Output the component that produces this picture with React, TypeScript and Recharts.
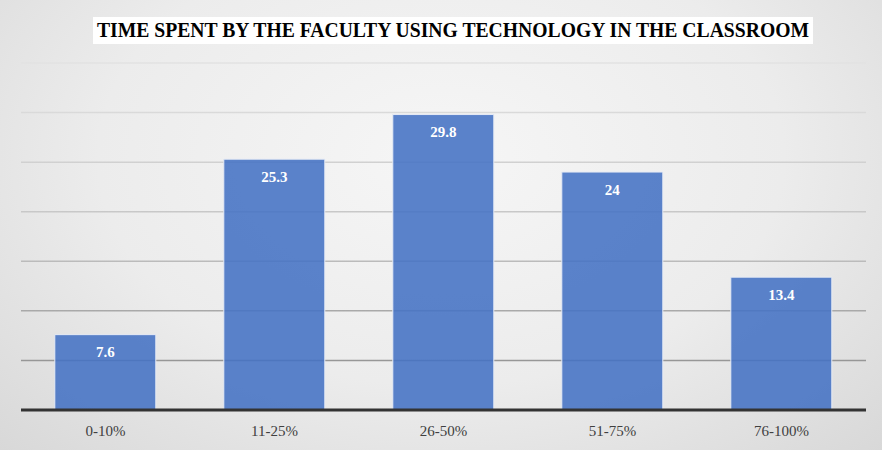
import { BarChart, Bar, XAxis, YAxis, CartesianGrid, LabelList } from "recharts";

const categories = ["0-10%", "11-25%", "26-50%", "51-75%", "76-100%"];
const values = [7.6, 25.3, 29.8, 24, 13.4];
const yTicks = [0, 5, 10, 15, 20, 25, 30, 35];
const title = "TIME SPENT BY THE FACULTY USING TECHNOLOGY IN THE CLASSROOM";

const data = categories.map((c, i) => ({ name: c, value: values[i] }));

const serif = "'Liberation Serif', 'Times New Roman', serif";

export default function App() {
  return (
    <div
      style={{
        position: "relative",
        width: 882,
        height: 450,
        background: "radial-gradient(ellipse at 50% 35%, #f6f6f6 0%, #ececec 55%, #d8d8d8 100%)",
      }}
    >
      <style>{`body{margin:0}`}</style>
      <div
        style={{
          position: "absolute",
          left: 93,
          top: 17,
          width: 720,
          height: 27,
          background: "#fff",
        }}
      />
      <svg width={882} height={450} style={{ position: "absolute", left: 0, top: 0 }}>
        <text
          x={453}
          y={37}
          textAnchor="middle"
          fontFamily={serif}
          fontWeight="bold"
          fontSize={20}
          fill="#000"
          textLength={712}
          lengthAdjust="spacingAndGlyphs"
        >
          {title}
        </text>
      </svg>
      <div style={{ position: "absolute", left: 0, top: 0 }}>
        <BarChart
          width={882}
          height={450}
          data={data}
          margin={{ top: 63, right: 16, left: 21, bottom: 10 }}
          barCategoryGap="20%"
        >
          <defs>
            <linearGradient id="gridGrad" gradientUnits="userSpaceOnUse" x1="0" y1="63" x2="0" y2="410">
              <stop offset="0%" stopColor="#e2e2e2" />
              <stop offset="50%" stopColor="#c4c4c4" />
              <stop offset="100%" stopColor="#858585" />
            </linearGradient>
          </defs>
          <CartesianGrid vertical={false} stroke="url(#gridGrad)" strokeWidth={1.5} />
          <YAxis hide domain={[0, 35]} ticks={yTicks} />
          <XAxis
            dataKey="name"
            height={30}
            axisLine={{ stroke: "#333", strokeWidth: 3 }}
            tickLine={false}
            tick={{ fill: "#404040", fontFamily: serif, fontSize: 15, dy: 7 }}
          />
          <Bar
            dataKey="value"
            fill="#4472c4"
            fillOpacity={0.88}
            stroke="#e6ebf5"
            strokeWidth={1}
            isAnimationActive={false}
          >
            <LabelList
              dataKey="value"
              position="insideTop"
              offset={12}
              fill="#fff"
              style={{ fontFamily: serif, fontWeight: "bold", fontSize: 15 }}
            />
          </Bar>
        </BarChart>
      </div>
    </div>
  );
}
